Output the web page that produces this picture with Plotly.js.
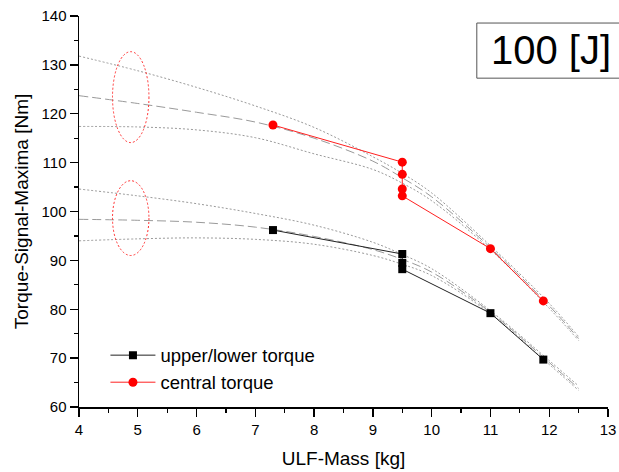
<!DOCTYPE html>
<html>
<head>
<meta charset="utf-8">
<script src="https://cdn.plot.ly/plotly-3.0.1.min.js"></script>
<style>html,body{margin:0;padding:0;background:#fff;}#chart{width:619px;height:472px;}</style>
</head>
<body>
<div id="chart"></div>
<script>
// measured data
const upperX = [7.3, 9.5, 9.5, 9.5, 11, 11.9];
const upperY = [96.2, 91.3, 89.5, 88.2, 79.2, 69.7];
const centralX = [7.3, 9.5, 9.5, 9.5, 9.5, 11, 11.9];
const centralY = [117.7, 110.1, 107.6, 104.6, 103.2, 92.4, 81.7];

// fit curves
const fitX = [4, 5, 6, 7, 8, 9, 9.5, 10, 11, 12, 12.5];
const centralFit = [123.7, 122.1, 120.3, 118.3, 115.0, 110.3, 106.9, 103.0, 92.6, 80.7, 74.0];
const centralFitUpper = [131.8, 128.8, 125.4, 121.6, 117.2, 111.2, 107.8, 103.8, 93.0, 81.2, 74.4];
const centralFitLower = [117.4, 117.3, 116.7, 115.1, 111.8, 108.6, 105.8, 102.2, 92.2, 80.2, 73.6];
const upperFit = [98.4, 98.2, 97.8, 96.8, 94.9, 92.2, 90.2, 87.6, 79.4, 69.1, 63.8];
const upperFitUpper = [104.6, 103.2, 101.6, 99.6, 97.2, 93.7, 91.2, 88.3, 79.7, 69.5, 64.3];
const upperFitLower = [94.0, 94.4, 94.6, 94.3, 93.3, 91.0, 89.2, 86.9, 79.1, 68.7, 63.4];

// ellipse marks (x range, y ranges)
const ellipseX = [4.57, 5.19];
const ellipseCentralY = [114.1, 132.7];
const ellipseUpperY = [91.0, 106.3];

const seriesNames = ["upper/lower torque", "central torque"];
const boxLabel = "100 [J]";

const FONT = "Liberation Sans, Arial, sans-serif";

function fitTrace(y, dash) {
  return {
    x: fitX, y: y, mode: "lines", type: "scatter", showlegend: false, hoverinfo: "skip",
    line: {color: "#9a9a9a", width: 1, dash: dash, shape: "spline", smoothing: 1}
  };
}

const traces = [
  fitTrace(centralFitUpper, "2px,2px"),
  fitTrace(centralFitLower, "2px,2px"),
  fitTrace(centralFit, "9px,4px"),
  fitTrace(upperFitUpper, "2px,2px"),
  fitTrace(upperFitLower, "2px,2px"),
  fitTrace(upperFit, "9px,4px"),
  {
    x: upperX, y: upperY, name: seriesNames[0], type: "scatter", mode: "lines+markers",
    line: {color: "#222", width: 1},
    marker: {symbol: "square", size: 8, color: "#000"}
  },
  {
    x: centralX, y: centralY, name: seriesNames[1], type: "scatter", mode: "lines+markers",
    line: {color: "#ff2020", width: 1},
    marker: {symbol: "circle", size: 9, color: "#ff0000"}
  }
];

const layout = {
  width: 619, height: 472,
  margin: {l: 79, r: 11, t: 16, b: 65},
  paper_bgcolor: "#fff", plot_bgcolor: "#fff",
  font: {family: FONT, size: 15, color: "#000"},
  showlegend: true,
  legend: {
    x: 0.05, y: 0.18, xanchor: "left", yanchor: "top",
    bgcolor: "rgba(0,0,0,0)", font: {family: FONT, size: 18.5, color: "#000"},
    tracegroupgap: 0, itemwidth: 45
  },
  xaxis: {
    range: [4, 13], dtick: 1, tick0: 4,
    showline: true, linecolor: "#000", linewidth: 1.5,
    ticks: "outside", ticklen: 8, tickwidth: 1.3, tickcolor: "#000",
    minor: {dtick: 0.5, ticks: "outside", ticklen: 4, tickwidth: 1.3, tickcolor: "#000"},
    showgrid: false, zeroline: false,
    tickfont: {family: FONT, size: 15},
    title: {text: "ULF-Mass [kg]", font: {family: FONT, size: 19}, standoff: 15}
  },
  yaxis: {
    range: [60, 140], dtick: 10, tick0: 60,
    showline: true, linecolor: "#000", linewidth: 1.5,
    ticks: "outside", ticklen: 8, tickwidth: 1.3, tickcolor: "#000",
    minor: {dtick: 5, ticks: "outside", ticklen: 4, tickwidth: 1.3, tickcolor: "#000"},
    showgrid: false, zeroline: false,
    tickfont: {family: FONT, size: 15},
    title: {text: "Torque-Signal-Maxima [Nm]", font: {family: FONT, size: 19}, standoff: 8}
  },
  shapes: [
    {type: "circle", xref: "x", yref: "y", x0: ellipseX[0], x1: ellipseX[1], y0: ellipseCentralY[0], y1: ellipseCentralY[1],
     line: {color: "#ff3030", width: 1, dash: "2px,2px"}},
    {type: "circle", xref: "x", yref: "y", x0: ellipseX[0], x1: ellipseX[1], y0: ellipseUpperY[0], y1: ellipseUpperY[1],
     line: {color: "#ff3030", width: 1, dash: "2px,2px"}},
    {type: "rect", xref: "paper", yref: "paper", x0: 0.752, x1: 1.05, y0: 0.841, y1: 0.982,
     line: {color: "#555", width: 1}, fillcolor: "#fff"}
  ],
  annotations: [
    {xref: "paper", yref: "paper", x: 0.892, y: 0.913, xanchor: "center", yanchor: "middle",
     text: boxLabel, showarrow: false, font: {family: FONT, size: 40, color: "#000"}}
  ]
};

Plotly.newPlot("chart", traces, layout, {displayModeBar: false, staticPlot: true});
</script>
</body>
</html>
